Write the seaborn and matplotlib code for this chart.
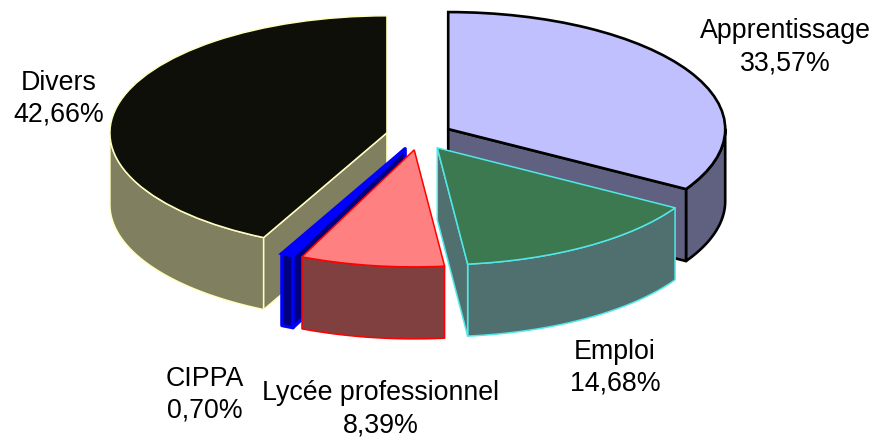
import numpy as np
import matplotlib
matplotlib.use("Agg")
import matplotlib.pyplot as plt
import seaborn as sns

categories = ["Apprentissage", "Emploi", "Lycée professionnel", "CIPPA", "Divers"]
shares = [33.57, 14.68, 8.39, 0.70, 42.66]
share_labels = ["33,57%", "14,68%", "8,39%", "0,70%", "42,66%"]
top_colors = ["#C0C0FF", "#3C7850", "#FF8080", "#0000FF", "#0F0F0A"]
side_colors = ["#606080", "#507070", "#804040", "#000080", "#808060"]
edge_colors = ["#000000", "#50E8E8", "#FF0000", "#0000FF", "#FFFFC0"]
line_widths = [1.9, 1.1, 1.1, 2.4, 1.1]

W, H = 873, 439
CX, CY, RX, RY = 419.3, 137.0, 277.0, 117.0
EXPLODE = 0.12
DEPTH = 72 / RY

sns.set_theme(style="white")
plt.rcParams["font.family"] = ["Liberation Sans", "DejaVu Sans"]
fig = plt.figure(figsize=(W / 100, H / 100), dpi=100, facecolor="white")
ax = fig.add_axes([0, 0, 1, 1])

wedges, _ = ax.pie(shares, startangle=90, counterclock=False, explode=[EXPLODE] * 5,
                   colors=top_colors, radius=1, wedgeprops=dict(zorder=5))
for w, e, lw in zip(wedges, edge_colors, line_widths):
    w.set_edgecolor(e)
    w.set_linewidth(lw)

ax.set_aspect("auto")
ax.set_xlim(-CX / RX, (W - CX) / RX)
ax.set_ylim((CY - H) / RY, CY / RY)
ax.axis("off")


def to_xy(px, py):
    return (px - CX) / RX, (CY - py) / RY


# Walls of the extruded slices: the front of the rim plus the cut faces seen
edges = np.cumsum([0] + shares) / sum(shares) * 2 * np.pi
cut_face = {0: 1, 1: 1, 3: 0, 4: 0}   # which boundary of the slice faces the viewer
wall_order = [1, 4, 3, 2, 1]
for i in range(len(shares)):
    a0, a1 = edges[i], edges[i + 1]
    mid = (a0 + a1) / 2
    ox, oy = EXPLODE * np.sin(mid), EXPLODE * np.cos(mid)
    walls = []
    lo, hi = max(a0, np.pi / 2), min(a1, 3 * np.pi / 2)
    if hi > lo:
        t = np.linspace(lo, hi, 80)
        x = ox + np.sin(t)
        y = oy + np.cos(t)
        walls.append((np.r_[x, x[::-1]], np.r_[y, y[::-1] - DEPTH]))
    if i in cut_face:
        ang = edges[i + cut_face[i]]
        ex, ey = np.sin(ang), np.cos(ang)
        walls.append((ox + np.array([0, ex, ex, 0]),
                      oy + np.array([0, ey, ey - DEPTH, -DEPTH])))
    for wx, wy in walls:
        ax.fill(wx, wy, facecolor=side_colors[i], edgecolor=edge_colors[i],
                linewidth=line_widths[i], zorder=wall_order[i], joinstyle="round")

label_pos = [(785, 47.5), (615, 368), (381, 409.5), (205, 395), (59, 99)]
for name, pct, (px, py) in zip(categories, share_labels, label_pos):
    x, y = to_xy(px, py)
    ax.text(x, y, f"{name}\n{pct}", ha="center", va="center", fontsize=19.3,
            color="black", linespacing=1.3, zorder=10)

fig.savefig("out.png", dpi=100, facecolor="white")
